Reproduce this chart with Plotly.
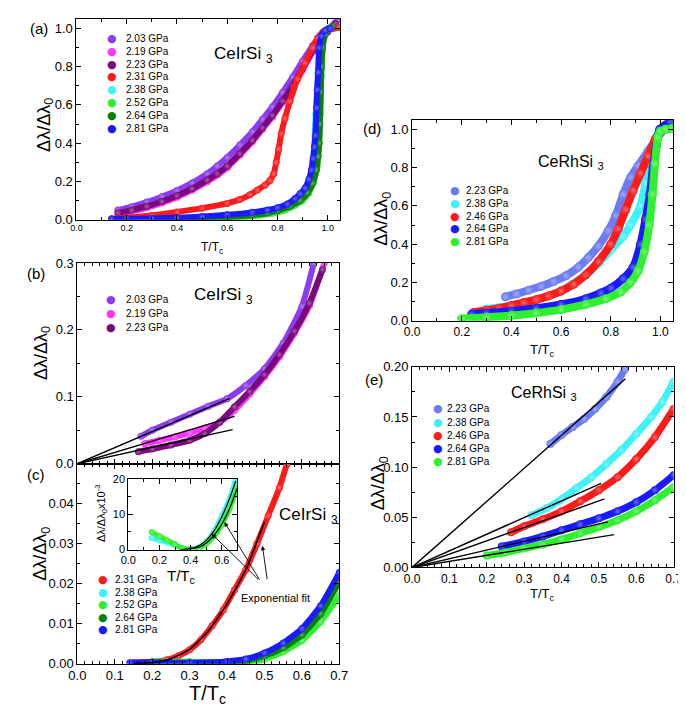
import plotly.graph_objects as go

W, H = 686, 717
FONT = "Liberation Sans, Arial, Helvetica, sans-serif"

VIOLET = "#8b3cf0"
MAGENTA = "#ff33ff"
PURPLE = "#7a0a7a"
RED = "#ff1a1a"
CYAN = "#3ef2f8"
LGREEN = "#2ef02e"
DGREEN = "#0a7f0a"
BLUE = "#1a1aff"
LAVENDER = "#6a7cf2"

# ---------------- (a) CeIrSi3, full range
a_labels = ["2.03 GPa", "2.19 GPa", "2.23 GPa", "2.31 GPa",
            "2.38 GPa", "2.52 GPa", "2.64 GPa", "2.81 GPa"]
a_colors = [VIOLET, MAGENTA, PURPLE, RED, CYAN, LGREEN, DGREEN, BLUE]

a_203_t = [0.165, 0.22, 0.28, 0.34, 0.40, 0.46, 0.52, 0.56, 0.60, 0.65, 0.70, 0.74,
           0.78, 0.82, 0.86, 0.90, 0.94, 0.97, 1.00, 1.03, 1.045]
a_203_y = [0.05, 0.068, 0.092, 0.12, 0.152, 0.192, 0.24, 0.28, 0.325, 0.39, 0.46, 0.525,
           0.59, 0.665, 0.745, 0.83, 0.91, 0.96, 0.995, 1.03, 1.046]
a_219_t = [0.17, 0.22, 0.28, 0.34, 0.40, 0.46, 0.52, 0.56, 0.60, 0.65, 0.70, 0.74,
           0.78, 0.82, 0.86, 0.90, 0.94, 0.97, 1.00, 1.03]
a_219_y = [0.030, 0.043, 0.062, 0.087, 0.117, 0.154, 0.198, 0.232, 0.272, 0.337, 0.407, 0.472,
           0.537, 0.612, 0.692, 0.782, 0.877, 0.94, 0.98, 1.02]
a_223_t = [0.165, 0.22, 0.28, 0.34, 0.40, 0.46, 0.52, 0.56, 0.60, 0.65, 0.70, 0.74,
           0.78, 0.82, 0.86, 0.90, 0.94, 0.97, 1.00, 1.03]
a_223_y = [0.035, 0.05, 0.07, 0.095, 0.125, 0.162, 0.207, 0.24, 0.28, 0.345, 0.415, 0.48,
           0.545, 0.62, 0.70, 0.79, 0.885, 0.945, 0.985, 1.025]
a_231_t = [0.14, 0.20, 0.30, 0.40, 0.50, 0.60, 0.65, 0.69, 0.72, 0.75, 0.77, 0.785, 0.795,
           0.805, 0.815, 0.83, 0.85, 0.88, 0.91, 0.94, 0.96, 0.98, 1.00, 1.02, 1.045]
a_231_y = [0.005, 0.01, 0.022, 0.04, 0.06, 0.085, 0.105, 0.13, 0.155, 0.18, 0.205, 0.24, 0.30,
           0.37, 0.45, 0.53, 0.62, 0.735, 0.82, 0.90, 0.95, 0.98, 0.995, 1.0, 1.005]
a_238_t = [0.30, 0.45, 0.60, 0.70, 0.78, 0.84, 0.88, 0.91, 0.93, 0.94, 0.947, 0.952,
           0.957, 0.962, 0.975, 0.99, 1.01]
a_238_y = [0.002, 0.006, 0.017, 0.03, 0.048, 0.075, 0.105, 0.15, 0.22, 0.30, 0.40, 0.55,
           0.62, 0.79, 0.93, 0.98, 1.0]
a_252_t = [0.45, 0.55, 0.65, 0.72, 0.78, 0.83, 0.87, 0.90, 0.925, 0.945, 0.958, 0.965,
           0.97, 0.974, 0.978, 0.985, 1.0]
a_252_y = [0.0, 0.003, 0.01, 0.02, 0.033, 0.05, 0.075, 0.10, 0.14, 0.20, 0.28, 0.40,
           0.55, 0.75, 0.88, 0.95, 1.0]
a_264_t = [0.30, 0.40, 0.50, 0.60, 0.70, 0.76, 0.80, 0.85, 0.89, 0.92, 0.94, 0.955, 0.962,
           0.966, 0.969, 0.972, 0.975, 0.98, 0.99, 1.005, 1.02]
a_264_y = [0.002, 0.004, 0.007, 0.013, 0.024, 0.035, 0.047, 0.07, 0.10, 0.14, 0.19, 0.26, 0.33,
           0.40, 0.50, 0.67, 0.80, 0.90, 0.97, 1.0, 1.01]
a_281_t = [0.14, 0.20, 0.30, 0.40, 0.50, 0.60, 0.70, 0.76, 0.80, 0.84, 0.87, 0.89, 0.91,
           0.925, 0.935, 0.942, 0.947, 0.951, 0.955, 0.958, 0.962, 0.966, 0.975, 0.99, 1.01]
a_281_y = [0.003, 0.004, 0.006, 0.01, 0.016, 0.025, 0.038, 0.05, 0.062, 0.082, 0.11, 0.135, 0.165,
           0.21, 0.26, 0.32, 0.38, 0.44, 0.585, 0.68, 0.77, 0.90, 0.96, 0.99, 1.0]

# ---------------- (b) CeIrSi3, low temperature, linear fits
b_labels = ["2.03 GPa", "2.19 GPa", "2.23 GPa"]
b_colors = [VIOLET, MAGENTA, PURPLE]
b_203_t = [0.17, 0.20, 0.25, 0.30, 0.35, 0.40, 0.45, 0.50, 0.55, 0.60, 0.632]
b_203_y = [0.041, 0.05, 0.062, 0.074, 0.086, 0.097, 0.117, 0.142, 0.18, 0.235, 0.30]
b_219_t = [0.18, 0.22, 0.26, 0.30, 0.34, 0.38, 0.42, 0.46, 0.50, 0.54, 0.58, 0.62, 0.66]
b_219_y = [0.030, 0.035, 0.040, 0.046, 0.053, 0.062, 0.080, 0.104, 0.13, 0.16, 0.195, 0.236, 0.30]
b_223_t = [0.163, 0.20, 0.25, 0.30, 0.34, 0.38, 0.42, 0.46, 0.50, 0.54, 0.58, 0.62, 0.655]
b_223_y = [0.018, 0.022, 0.028, 0.035, 0.045, 0.062, 0.085, 0.108, 0.133, 0.163, 0.198, 0.24, 0.29]
b_fit_t_end = [0.407, 0.42, 0.415]
b_fit_y_end = [0.0976, 0.0707, 0.051]

# ---------------- (c) CeIrSi3, exponential fits
c_labels = ["2.31 GPa", "2.38 GPa", "2.52 GPa", "2.64 GPa", "2.81 GPa"]
c_colors = [RED, CYAN, LGREEN, DGREEN, BLUE]
c_231_t = [0.15, 0.20, 0.24, 0.27, 0.30, 0.33, 0.36, 0.39, 0.42, 0.45, 0.48, 0.51, 0.54, 0.56]
c_231_y = [0.0003, 0.0005, 0.001, 0.002, 0.0035, 0.006, 0.0095, 0.0135, 0.0185, 0.0235,
           0.030, 0.037, 0.044, 0.050]
c_238_t = [0.30, 0.40, 0.45, 0.50, 0.55, 0.60, 0.65, 0.70]
c_238_y = [0.0002, 0.0004, 0.0009, 0.0021, 0.0042, 0.0075, 0.013, 0.021]
c_252_t = [0.20, 0.30, 0.40, 0.45, 0.50, 0.55, 0.60, 0.65, 0.70]
c_252_y = [0.0006, 0.0005, 0.0003, 0.0003, 0.0012, 0.003, 0.0058, 0.0105, 0.017]
c_264_t = [0.30, 0.40, 0.45, 0.50, 0.55, 0.60, 0.65, 0.70]
c_264_y = [0.0002, 0.0004, 0.0008, 0.002, 0.004, 0.0072, 0.0125, 0.0205]
c_281_t = [0.14, 0.20, 0.30, 0.40, 0.45, 0.50, 0.55, 0.60, 0.65, 0.70]
c_281_y = [0.0003, 0.0004, 0.0003, 0.0006, 0.0012, 0.0027, 0.0052, 0.0088, 0.0145, 0.0228]
c_fit_t = [0.15, 0.20, 0.25, 0.30, 0.35, 0.40, 0.45, 0.50]
c_fit_y = [0.0, 0.0003, 0.0013, 0.0036, 0.0082, 0.015, 0.0235, 0.0355]

# inset of (c), units of 1e-3
i_238_t = [0.15, 0.20, 0.25, 0.30, 0.35, 0.40, 0.45, 0.50, 0.55, 0.60, 0.65, 0.69]
i_238_y = [3.3, 2.6, 2.0, 1.2, 0.3, 0.2, 0.6, 2.2, 5.2, 9.5, 14.5, 20.0]
i_252_t = [0.15, 0.20, 0.25, 0.30, 0.35, 0.40, 0.45, 0.50, 0.55, 0.60, 0.65, 0.70]
i_252_y = [5.0, 3.8, 2.6, 1.5, 0.3, 0.1, 0.4, 1.6, 3.8, 7.0, 11.5, 17.5]
i_fit1_t = [0.33, 0.40, 0.45, 0.50, 0.55, 0.60, 0.65, 0.69]
i_fit1_y = [0.0, 0.3, 1.0, 2.6, 5.3, 9.3, 14.5, 19.5]
i_fit2_t = [0.35, 0.40, 0.45, 0.50, 0.55, 0.60, 0.65, 0.70]
i_fit2_y = [0.0, 0.2, 0.6, 1.8, 4.0, 7.2, 11.6, 17.5]

# ---------------- (d) CeRhSi3, full range
d_labels = ["2.23 GPa", "2.38 GPa", "2.46 GPa", "2.64 GPa", "2.81 GPa"]
d_colors = [LAVENDER, CYAN, RED, BLUE, LGREEN]
d_223_t = [0.376, 0.42, 0.47, 0.52, 0.57, 0.62, 0.67, 0.71, 0.75, 0.79, 0.82, 0.85,
           0.88, 0.91, 0.95, 0.99, 1.03, 1.05]
d_223_y = [0.125, 0.14, 0.16, 0.18, 0.205, 0.235, 0.28, 0.33, 0.39, 0.47, 0.55, 0.66,
           0.75, 0.81, 0.885, 0.96, 1.02, 1.05]
d_238_t = [0.30, 0.40, 0.50, 0.60, 0.70, 0.75, 0.80, 0.85, 0.88, 0.92, 0.94, 0.96,
           0.98, 1.00, 1.04]
d_238_y = [0.062, 0.08, 0.11, 0.155, 0.24, 0.30, 0.37, 0.44, 0.50, 0.60, 0.72, 0.85,
           0.95, 1.0, 1.04]
d_246_t = [0.25, 0.30, 0.35, 0.40, 0.45, 0.50, 0.55, 0.60, 0.65, 0.70, 0.75, 0.80,
           0.83, 0.86, 0.89, 0.92, 0.95, 0.98, 1.01, 1.04]
d_246_y = [0.045, 0.055, 0.065, 0.08, 0.095, 0.11, 0.13, 0.155, 0.19, 0.24, 0.31, 0.40,
           0.48, 0.58, 0.68, 0.77, 0.86, 0.95, 1.0, 1.03]
d_264_t = [0.24, 0.30, 0.40, 0.50, 0.60, 0.70, 0.76, 0.80, 0.85, 0.89, 0.92, 0.94,
           0.958, 0.97, 0.984, 0.997, 1.04]
d_264_y = [0.035, 0.04, 0.05, 0.065, 0.085, 0.115, 0.145, 0.17, 0.22, 0.28, 0.40, 0.53,
           0.66, 0.80, 0.915, 1.0, 1.04]
d_281_t = [0.20, 0.30, 0.40, 0.50, 0.60, 0.70, 0.78, 0.84, 0.88, 0.91, 0.935, 0.955,
           0.968, 0.978, 0.99, 1.00, 1.02, 1.05]
d_281_y = [0.01, 0.018, 0.027, 0.04, 0.058, 0.085, 0.115, 0.15, 0.20, 0.26, 0.36, 0.50,
           0.66, 0.82, 0.96, 0.99, 1.0, 1.005]

# ---------------- (e) CeRhSi3, low temperature, linear fits
e_223_t = [0.37, 0.40, 0.43, 0.46, 0.49, 0.52, 0.55, 0.57]
e_223_y = [0.123, 0.132, 0.14, 0.148, 0.158, 0.17, 0.185, 0.198]
e_238_t = [0.32, 0.36, 0.40, 0.44, 0.48, 0.52, 0.56, 0.60, 0.64, 0.67, 0.70]
e_238_y = [0.052, 0.059, 0.068, 0.079, 0.09, 0.103, 0.117, 0.133, 0.15, 0.165, 0.185]
e_246_t = [0.265, 0.30, 0.35, 0.40, 0.45, 0.50, 0.55, 0.60, 0.65, 0.70]
e_246_y = [0.035, 0.041, 0.048, 0.056, 0.066, 0.077, 0.09, 0.108, 0.13, 0.158]
e_264_t = [0.24, 0.30, 0.35, 0.40, 0.45, 0.50, 0.55, 0.60, 0.65, 0.70]
e_264_y = [0.021, 0.026, 0.031, 0.037, 0.043, 0.049, 0.056, 0.065, 0.077, 0.092]
e_281_t = [0.20, 0.25, 0.30, 0.35, 0.40, 0.45, 0.50, 0.55, 0.60, 0.65, 0.70]
e_281_y = [0.012, 0.015, 0.019, 0.023, 0.028, 0.034, 0.04, 0.047, 0.056, 0.067, 0.08]
e_fit_t_end = [0.571, 0.506, 0.515, 0.524, 0.541]
e_fit_y_end = [0.188, 0.0839, 0.0683, 0.0455, 0.0328]


def px(x):
    return x / W


def py(y):
    return 1 - y / H


def lighten(c, f=0.35):
    r, g, b = (int(c[i:i + 2], 16) for i in (1, 3, 5))
    r, g, b = (int(v + (255 - v) * f) for v in (r, g, b))
    return f"rgb({r},{g},{b})"


fig = go.Figure()


def band(t, y, color, n, size=7, width=6):
    fig.add_trace(go.Scatter(
        x=t, y=y, mode="lines+markers", xaxis=f"x{n}", yaxis=f"y{n}",
        line=dict(color=color, width=width, shape="spline", smoothing=0.5),
        marker=dict(size=size, color=color,
                    gradient=dict(type="radial", color=lighten(color))),
        showlegend=False, hoverinfo="skip",
    ))


def fit(t, y, n, width=1.4):
    fig.add_trace(go.Scatter(
        x=t, y=y, mode="lines", xaxis=f"x{n}", yaxis=f"y{n}",
        line=dict(color="black", width=width, shape="spline", smoothing=0.5),
        showlegend=False, hoverinfo="skip",
    ))


# (a)
for t, y, c in zip([a_203_t, a_219_t, a_223_t, a_231_t, a_238_t, a_252_t, a_264_t, a_281_t],
                   [a_203_y, a_219_y, a_223_y, a_231_y, a_238_y, a_252_y, a_264_y, a_281_y],
                   a_colors):
    band(t, y, c, "")
# (b)
for t, y, c in zip([b_203_t, b_219_t, b_223_t], [b_203_y, b_219_y, b_223_y], b_colors):
    band(t, y, c, 2)
for te, ye in zip(b_fit_t_end, b_fit_y_end):
    fit([0, te], [0, ye], 2)
# (c)
for t, y, c in zip([c_231_t, c_238_t, c_252_t, c_264_t, c_281_t],
                   [c_231_y, c_238_y, c_252_y, c_264_y, c_281_y], c_colors):
    band(t, y, c, 3)
fit(c_fit_t, c_fit_y, 3, 1.6)
# inset
band(i_238_t, i_238_y, CYAN, 6, size=6, width=5)
band(i_252_t, i_252_y, LGREEN, 6, size=6, width=5)
fit(i_fit1_t, i_fit1_y, 6, 1.2)
fit(i_fit2_t, i_fit2_y, 6, 1.2)
# (d)
for t, y, c in zip([d_223_t, d_238_t, d_246_t, d_264_t, d_281_t],
                   [d_223_y, d_238_y, d_246_y, d_264_y, d_281_y], d_colors):
    band(t, y, c, 4, size=9, width=8)
# (e)
for t, y, c in zip([e_223_t, e_238_t, e_246_t, e_264_t, e_281_t],
                   [e_223_y, e_238_y, e_246_y, e_264_y, e_281_y], d_colors):
    band(t, y, c, 5, size=8, width=7)
for te, ye in zip(e_fit_t_end, e_fit_y_end):
    fit([0, te], [0, ye], 5)


def axis(dom, rng, dtick, mdtick, fmt, size=13, labels=True, tickvals=None):
    a = dict(
        domain=dom, range=rng, showline=True, linecolor="black", linewidth=1,
        mirror="ticks", ticks="inside", ticklen=5, tickwidth=1, tickcolor="black",
        showgrid=False, zeroline=False, showticklabels=labels, tickformat=fmt,
        tickfont=dict(family=FONT, size=size, color="black"),
        minor=dict(ticks="inside", ticklen=3, tickwidth=1, tickcolor="black",
                   dtick=mdtick, tick0=0, showgrid=False),
        fixedrange=True,
    )
    if tickvals is not None:
        a.update(tickmode="array", tickvals=tickvals)
    else:
        a.update(dtick=dtick, tick0=0)
    return a


def xdom(x0, x1):
    return [px(x0), px(x1)]


def ydom(y0, y1):
    return [py(y1), py(y0)]


fig.update_layout(
    xaxis=axis(xdom(61, 332), [0, 1.05], 0.2, 0.1, ".1f", size=9),
    yaxis=dict(axis(ydom(4, 209), [0, 1.05], 0.2, 0.1, ".1f", size=13), anchor="x"),
    xaxis2=dict(axis(xdom(62, 331), [0, 0.7], 0.1, 0.02, ".1f", labels=False), anchor="y2"),
    yaxis2=dict(axis(ydom(253.3, 458.3), [0, 0.3], 0.1, 0.05, ".1f"), anchor="x2"),
    xaxis3=dict(axis(xdom(62, 331), [0, 0.7], 0.1, 0.02, ".1f", size=13), anchor="y3"),
    yaxis3=dict(axis(ydom(458.3, 662.7), [0, 0.05], 0.01, 0.005, ".2f",
                     tickvals=[0, 0.01, 0.02, 0.03, 0.04]), anchor="x3"),
    xaxis4=dict(axis(xdom(405.7, 673.5), [0, 1.05], 0.2, 0.1, ".1f", size=12), anchor="y4"),
    yaxis4=dict(axis(ydom(107, 312.3), [0, 1.05], 0.2, 0.1, ".1f"), anchor="x4"),
    xaxis5=dict(axis(xdom(405.7, 674.3), [0, 0.7], 0.1, 0.02, ".1f", size=12), anchor="y5"),
    yaxis5=dict(axis(ydom(359.3, 564.3), [0, 0.2], 0.05, 0.025, ".2f"), anchor="x5"),
    xaxis6=dict(axis(xdom(114.3, 226.3), [0, 0.7], 0.2, 0.1, ".1f", size=11), anchor="y6"),
    yaxis6=dict(axis(ydom(474, 546), [0, 20], 10, 5, "d", size=11), anchor="x6"),
)

ann = []


def text(x, y, s, size, xanchor="center", angle=0, yanchor="middle"):
    ann.append(dict(x=px(x), y=py(y), xref="paper", yref="paper", text=s,
                    showarrow=False, xanchor=xanchor, yanchor=yanchor, textangle=angle,
                    font=dict(family=FONT, size=size, color="black")))


def legend(mx, tx, y0, step, labels, colors):
    for i, (lab, c) in enumerate(zip(labels, colors)):
        y = y0 + i * step
        ann.append(dict(x=px(mx), y=py(y), xref="paper", yref="paper", text="●",
                        showarrow=False, xanchor="center", yanchor="middle",
                        font=dict(family="DejaVu Sans", size=11, color=c)))
        text(tx, y, lab, 10, xanchor="left")


legend(98, 110, 24, 13.1, a_labels, a_colors)
legend(97, 110, 291, 14, b_labels, b_colors)
legend(88, 99, 576.7, 12.75, c_labels, c_colors)
legend(450, 459, 179.3, 13, d_labels, d_colors)
legend(432, 440, 402.3, 13.4, d_labels, d_colors)

YT = "Δλ/Δλ<sub>0</sub>"
TT = "T/T<sub>c</sub>"
text(29, 112, YT, 18, angle=-90)
text(26, 345, YT, 18, angle=-90)
text(25, 550, YT, 18, angle=-90)
text(376, 208, YT, 18, angle=-90)
text(372, 478, YT, 18, angle=-90)
text(200, 238, TT, 12)
text(196, 694, TT, 20)
text(540, 343, TT, 13)
text(540, 592, TT, 13)
text(87, 509, "Δλ/Δλ<sub>0</sub>x10<sup>-3</sup>", 11, angle=-90)
text(168, 573, TT, 15)

text(200, 41, "CeIrSi <sub>3</sub>", 17, xanchor="left")
text(180, 287, "CeIrSi <sub>3</sub>", 17, xanchor="left")
text(267, 512, "CeIrSi <sub>3</sub>", 17, xanchor="left")
text(533, 151, "CeRhSi <sub>3</sub>", 16, xanchor="left")
text(505, 387, "CeRhSi <sub>3</sub>", 16, xanchor="left")

text(11, 14, "(a)", 15, xanchor="left")
text(8, 264, "(b)", 15, xanchor="left")
text(8, 469, "(c)", 15, xanchor="left")
text(353, 116, "(d)", 15, xanchor="left")
text(355, 372, "(e)", 15, xanchor="left")

text(265, 595, "Exponential fit", 11)
for (x0, y0, x1, y1) in [(248, 577, 200, 530), (249, 577, 213, 518), (257, 577, 252, 542)]:
    ann.append(dict(x=px(x1), y=py(y1), xref="paper", yref="paper", text="",
                    showarrow=True, ax=x0 - x1, ay=y0 - y1, axref="pixel", ayref="pixel",
                    arrowhead=2, arrowsize=1, arrowwidth=0.9, arrowcolor="black"))

fig.update_layout(
    width=W, height=H, margin=dict(l=0, r=0, t=0, b=0),
    paper_bgcolor="white", plot_bgcolor="white", showlegend=False,
    annotations=ann, font=dict(family=FONT, color="black"),
)

fig.write_html("out.html")
